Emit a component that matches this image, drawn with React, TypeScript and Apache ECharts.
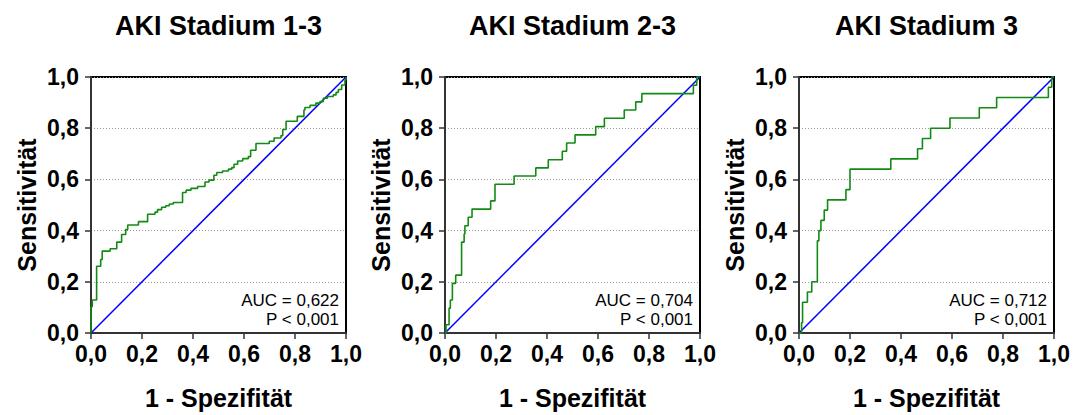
import React, { useEffect, useRef } from "react";
import * as echarts from "echarts";

const titles = ["AKI Stadium 1-3", "AKI Stadium 2-3", "AKI Stadium 3"];
const aucLabels = ["AUC = 0,622", "AUC = 0,704", "AUC = 0,712"];
const pLabels = ["P < 0,001", "P < 0,001", "P < 0,001"];
const xAxisName = "1 - Spezifität";
const yAxisName = "Sensitivität";

// ROC points: [1 - specificity at jump, new sensitivity]
const roc1: number[][] = [
  [0, 0], [0, 0.103], [0.005, 0.129], [0.022, 0.261], [0.038, 0.287], [0.044, 0.32],
  [0.075, 0.329], [0.101, 0.355], [0.12, 0.385], [0.136, 0.404], [0.144, 0.422],
  [0.186, 0.435], [0.222, 0.464], [0.251, 0.472], [0.261, 0.482], [0.277, 0.491],
  [0.293, 0.497], [0.307, 0.504], [0.323, 0.51], [0.359, 0.549], [0.373, 0.558],
  [0.392, 0.565], [0.418, 0.572], [0.447, 0.59], [0.463, 0.597], [0.482, 0.616],
  [0.493, 0.627], [0.516, 0.633], [0.539, 0.64], [0.552, 0.646], [0.561, 0.659],
  [0.575, 0.672], [0.595, 0.681], [0.617, 0.689], [0.626, 0.714], [0.647, 0.74],
  [0.699, 0.749], [0.718, 0.762], [0.745, 0.771], [0.752, 0.795], [0.765, 0.827],
  [0.809, 0.846], [0.835, 0.871], [0.839, 0.881], [0.859, 0.889], [0.882, 0.898],
  [0.898, 0.904], [0.911, 0.917], [0.927, 0.924], [0.95, 0.93], [0.961, 0.94],
  [0.97, 0.951], [0.983, 0.969], [0.996, 0.988], [1, 1],
];
const roc2: number[][] = [
  [0, 0], [0.004, 0.032], [0.016, 0.097], [0.021, 0.129], [0.029, 0.194], [0.042, 0.226],
  [0.065, 0.355], [0.075, 0.387], [0.078, 0.419], [0.091, 0.452], [0.106, 0.484],
  [0.179, 0.516], [0.196, 0.581], [0.271, 0.613], [0.356, 0.645], [0.405, 0.677],
  [0.46, 0.71], [0.477, 0.742], [0.51, 0.774], [0.591, 0.806], [0.625, 0.839],
  [0.703, 0.871], [0.748, 0.903], [0.772, 0.935], [0.974, 0.968], [0.987, 1.0], [1, 1],
];
const roc3: number[][] = [
  [0, 0], [0.01, 0.04], [0.014, 0.12], [0.033, 0.16], [0.05, 0.2], [0.072, 0.36],
  [0.078, 0.4], [0.086, 0.44], [0.099, 0.48], [0.112, 0.52], [0.184, 0.56], [0.2, 0.64],
  [0.36, 0.68], [0.465, 0.72], [0.484, 0.76], [0.516, 0.8], [0.592, 0.84], [0.707, 0.88],
  [0.775, 0.92], [0.978, 0.96], [0.991, 1.0], [1, 1],
];
const rocs = [roc1, roc2, roc3];
const refLine: number[][] = [[0, 0], [1, 1]];

const FONT = "'Liberation Sans', Arial, Helvetica, sans-serif";
const W = 1077;
const H = 415;
const gridLefts = [91, 445, 799];
const gridTop = 77;
const gridW = 255;
const gridH = 258;

const fmt = (v: number) => v.toFixed(1).replace(".", ",");

export default function App() {
  const ref = useRef<HTMLDivElement>(null);
  useEffect(() => {
    if (!ref.current) return;
    const chart = echarts.init(ref.current, undefined, { renderer: "svg" });
    const grids = gridLefts.map((l) => ({
      left: l,
      top: gridTop,
      width: gridW,
      height: gridH,
      show: true,
      borderColor: "#000",
      borderWidth: 2,
      backgroundColor: "transparent",
    }));
    const xAxes = gridLefts.map((_, i) => ({
      gridIndex: i,
      type: "value",
      min: 0,
      max: 1,
      interval: 0.2,
      axisLine: { show: true, onZero: false, lineStyle: { color: "#333", width: 2 } },
      axisTick: { show: true, length: 6, lineStyle: { color: "#333", width: 1.5 } },
      splitLine: { show: false },
      axisLabel: {
        formatter: fmt,
        fontWeight: "bold",
        fontSize: 23,
        color: "#000",
        margin: 9,
        fontFamily: FONT,
      },
      name: xAxisName,
      nameLocation: "middle",
      nameGap: 52,
      nameTextStyle: { fontWeight: "bold", fontSize: 25, color: "#000", fontFamily: FONT },
    }));
    const yAxes = gridLefts.map((_, i) => ({
      gridIndex: i,
      type: "value",
      min: 0,
      max: 1,
      interval: 0.2,
      axisLine: { show: true, onZero: false, lineStyle: { color: "#333", width: 2 } },
      axisTick: { show: true, length: 6, lineStyle: { color: "#333", width: 1.5 } },
      splitLine: { show: true, lineStyle: { color: "#999", width: 1, type: [1, 2] } },
      axisLabel: {
        formatter: fmt,
        fontWeight: "bold",
        fontSize: 23,
        color: "#000",
        margin: 12,
        fontFamily: FONT,
      },
      name: yAxisName,
      nameLocation: "middle",
      nameGap: 52,
      nameTextStyle: { fontWeight: "bold", fontSize: 25, color: "#000", fontFamily: FONT },
    }));
    const series: any[] = [];
    rocs.forEach((d, i) => {
      series.push({
        type: "line",
        xAxisIndex: i,
        yAxisIndex: i,
        data: refLine,
        showSymbol: false,
        symbol: "none",
        lineStyle: { color: "#0000ff", width: 1.5 },
        silent: true,
        z: 2,
      });
      series.push({
        type: "line",
        xAxisIndex: i,
        yAxisIndex: i,
        data: d,
        step: "end",
        showSymbol: false,
        symbol: "none",
        lineStyle: { color: "#138a13", width: 1.6 },
        silent: true,
        clip: false,
        z: 3,
      });
    });
    const graphics: any[] = [];
    gridLefts.forEach((l, i) => {
      graphics.push({
        type: "text",
        x: l + gridW / 2,
        y: 26,
        style: {
          text: titles[i],
          fontSize: 27,
          fontWeight: "bold",
          fontFamily: FONT,
          fill: "#000",
          textAlign: "center",
          textVerticalAlign: "middle",
        },
      });
      graphics.push({
        type: "text",
        x: l + gridW - 7,
        y: 300,
        style: {
          text: aucLabels[i],
          fontSize: 17,
          fontFamily: FONT,
          fill: "#000",
          textAlign: "right",
          textVerticalAlign: "middle",
        },
      });
      graphics.push({
        type: "text",
        x: l + gridW - 7,
        y: 319,
        style: {
          text: pLabels[i],
          fontSize: 17,
          fontFamily: FONT,
          fill: "#000",
          textAlign: "right",
          textVerticalAlign: "middle",
        },
      });
    });
    chart.setOption({
      animation: false,
      backgroundColor: "#fff",
      grid: grids,
      xAxis: xAxes,
      yAxis: yAxes,
      series,
      graphic: graphics,
    });
    return () => chart.dispose();
  }, []);
  return (
    <div
      ref={ref}
      style={{ position: "fixed", left: 0, top: 0, width: W, height: H }}
    />
  );
}
